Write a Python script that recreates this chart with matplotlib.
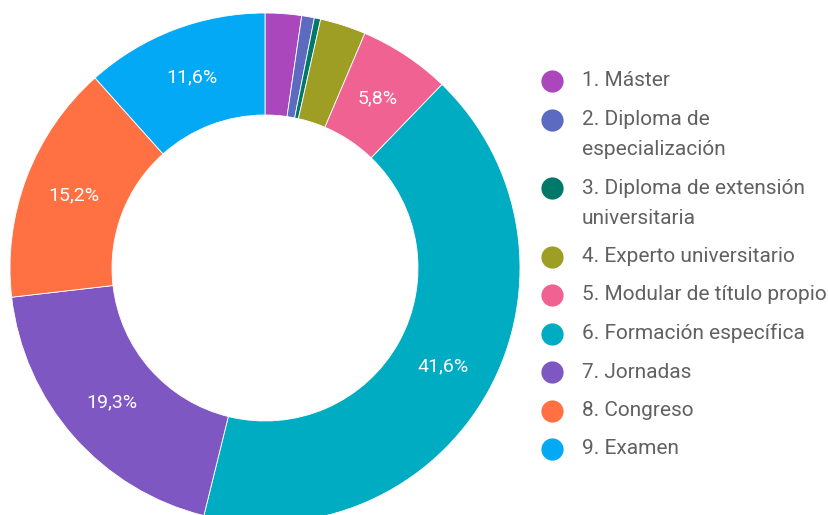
import matplotlib.pyplot as plt

categorias = ["1. Máster", "2. Diploma de\nespecialización",
              "3. Diploma de extensión\nuniversitaria", "4. Experto universitario",
              "5. Modular de título propio", "6. Formación específica",
              "7. Jornadas", "8. Congreso", "9. Examen"]
porcentajes = [2.3, 0.8, 0.4, 2.9, 5.8, 41.6, 19.3, 15.2, 11.6]
colores = ["#AB47BC", "#5C6BC0", "#00796B", "#9E9D24", "#F06292",
           "#00ACC1", "#7E57C2", "#FF7043", "#03A9F4"]

plt.rcParams['font.family'] = ['Roboto', 'DejaVu Sans']

W, H = 829, 515
fig = plt.figure(figsize=(W / 100, H / 100), dpi=100)

# donut: centre (265, 268) px, radius 255 px
cx, cy, r = 265, 268, 255
ax = fig.add_axes([(cx - r) / W, (H - cy - r) / H, 2 * r / W, 2 * r / H])


def etiqueta(p):
    return ("%.1f%%" % p).replace(".", ",") if p > 5 else ""


wedges, _, autotexts = ax.pie(porcentajes, colors=colores, startangle=90,
                              counterclock=False, radius=1,
                              autopct=etiqueta, pctdistance=0.8,
                              wedgeprops=dict(width=0.4, edgecolor="white", linewidth=0.6),
                              textprops=dict(color="white", fontsize=14))
ax.set_xlim(-1, 1)
ax.set_ylim(-1, 1)
ax.axis("off")
for w in wedges:
    w.set_clip_on(False)

# legend drawn in pixel coordinates
lax = fig.add_axes([0, 0, 1, 1])
lax.set_xlim(0, W)
lax.set_ylim(H, 0)
lax.axis("off")
y = 81
for nombre, color in zip(categorias, colores):
    lax.plot(552, y, "o", color=color, markersize=16, markeredgewidth=0)
    lineas = nombre.split("\n")
    for i, linea in enumerate(lineas):
        lax.text(582, y + 30 * i, linea, fontsize=15, color="#616161", va="center")
    y += 38.5 + 30 * (len(lineas) - 1)

fig.savefig("out.png", dpi=100)
